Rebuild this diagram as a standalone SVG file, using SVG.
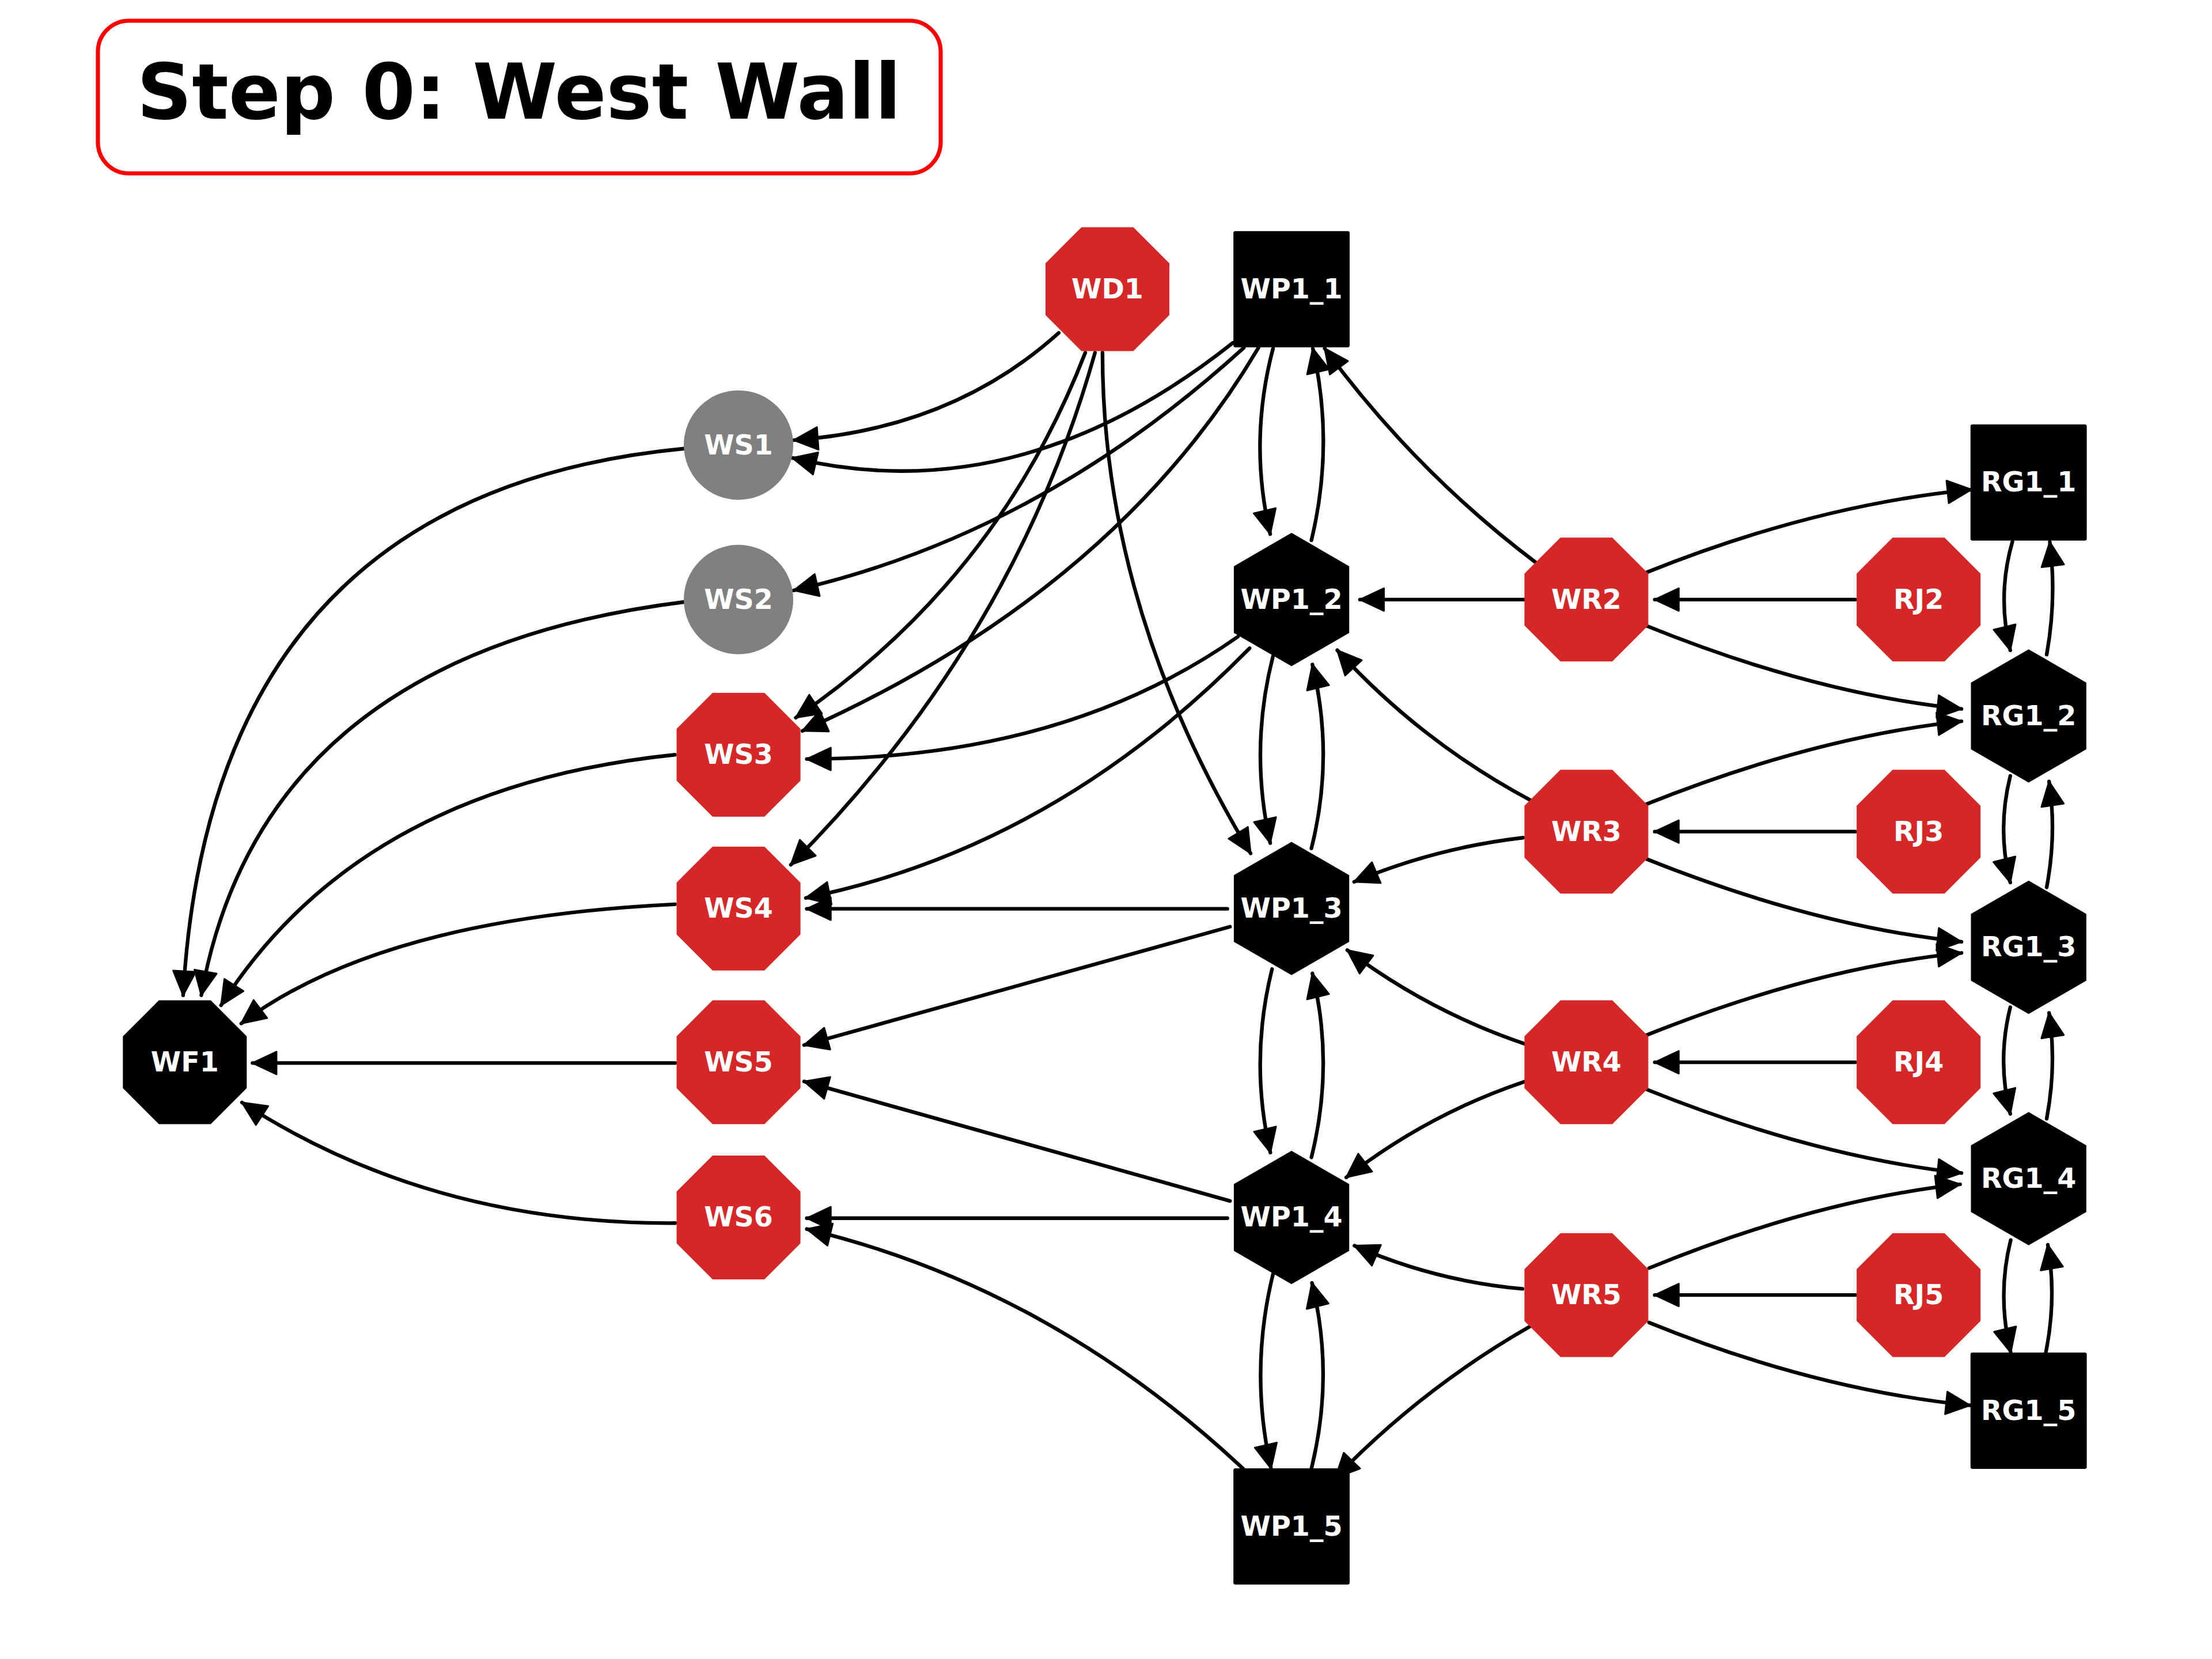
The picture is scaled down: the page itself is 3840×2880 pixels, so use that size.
<svg xmlns="http://www.w3.org/2000/svg" xmlns:xlink="http://www.w3.org/1999/xlink" width="3840" height="2880" viewBox="0 0 3840 2880">
<defs>
<style>
.e{fill:none;stroke:#000;stroke-width:2.6;stroke-linecap:round;marker-end:url(#ah)}
.red{fill:#d62728;stroke:#d62728;stroke-width:0.8;stroke-linejoin:round}
.blk{fill:#000;stroke:#000;stroke-width:0.8;stroke-linejoin:round}
.gry{fill:#808080}
.lbl{font-family:"DejaVu Sans","Liberation Sans",sans-serif;font-weight:bold;font-size:19.4px;fill:#fff;text-anchor:middle}
.ttl{font-family:"DejaVu Sans","Liberation Sans",sans-serif;font-weight:bold;font-size:54.3px;fill:#000;text-anchor:middle}
</style>
<marker id="ah" markerUnits="userSpaceOnUse" markerWidth="22" markerHeight="22" viewBox="0 0 22 22" refX="18.5" refY="11" orient="auto">
<path d="M1.5,3 L18.5,11 L1.5,19 Z" fill="#000" stroke="#000" stroke-width="1.2" stroke-linejoin="round"/>
</marker>
<path id="oct" d="M-18.2,-43.5 L18.2,-43.5 L43.5,-18.2 L43.5,18.2 L18.2,43.5 L-18.2,43.5 L-43.5,18.2 L-43.5,-18.2 Z"/>
<path id="hex" d="M0,-46.8 L40.5,-23.4 L40.5,23.4 L0,46.8 L-40.5,23.4 L-40.5,-23.4 Z"/>
<rect id="sq" x="-40.8" y="-40.8" width="81.6" height="81.6" rx="1"/>
<circle id="circ" r="38.8"/>
</defs>
<rect x="0" y="0" width="3840" height="2880" fill="#fff"/>
<g transform="scale(2.449)">
<g id="title">
<rect x="69.4" y="14.7" width="597.4" height="108.2" rx="22" fill="#fff" stroke="#ff0000" stroke-width="2.9"/>
<text class="ttl" x="367.9" y="84.1">Step 0: West Wall</text>
</g>
<g id="edges">
<path class="e" d="M485,318 Q150,350 129.8,705.5"/>
<path class="e" d="M485,426.7 Q186,464 142.7,705.5"/>
<path class="e" d="M478.4,535 Q255,558 156.7,712.6"/>
<path class="e" d="M478.4,641 Q270,651 171,725.5"/>
<path class="e" d="M478.7,753.5 L179,753.5"/>
<path class="e" d="M478.6,867 Q305,868 171.5,781.5"/>
<path class="e" d="M750.5,236 Q675,304 562.7,312"/>
<path class="e" d="M874,243 Q723,363 561.6,324.6"/>
<path class="e" d="M881.6,246.6 Q736,379 562.7,418.5"/>
<path class="e" d="M769.3,250 Q707,411 564.1,508.7"/>
<path class="e" d="M892,246.6 Q790,419 568.8,518.1"/>
<path class="e" d="M877.5,451.3 Q754,538 571.9,538"/>
<path class="e" d="M776.2,250 Q719,454 560.6,613"/>
<path class="e" d="M885.8,459.5 Q747,601 571.2,636.5"/>
<path class="e" d="M870,644.2 L571.9,644.2"/>
<path class="e" d="M871.9,656.9 L570,740.8"/>
<path class="e" d="M871.9,851.3 L570,766.6"/>
<path class="e" d="M870,863.5 L571.9,863.5"/>
<path class="e" d="M881.3,1041.2 Q744,912.5 571.9,871.2"/>
<path class="e" d="M781.5,250 Q781.5,431 886.5,604.9"/>
<path class="e" d="M902.4,247 Q885,313 900.4,378.6"/>
<path class="e" d="M929.6,383 Q946,315 930.6,247"/>
<path class="e" d="M902.4,465 Q885.5,531 900.4,597.6"/>
<path class="e" d="M929.6,601.4 Q946,536 930.3,471"/>
<path class="e" d="M901.7,686.9 Q885.5,752 900.5,817"/>
<path class="e" d="M929.6,820.4 Q946,755 930.3,690"/>
<path class="e" d="M902.4,903 Q885.5,972 901,1041"/>
<path class="e" d="M929.6,1041 Q946,975 930,909.4"/>
<path class="e" d="M1081,425 L964,425"/>
<path class="e" d="M1089,399 Q1003,334 939,247"/>
<path class="e" d="M1085.5,567.6 Q1007.5,526 947.9,460.9"/>
<path class="e" d="M1079.6,593.8 Q1017.5,601 959.9,625.1"/>
<path class="e" d="M1080.4,739.8 Q1012.4,716.7 955,673.5"/>
<path class="e" d="M1080.4,766.8 Q1011.6,790 954.3,834.6"/>
<path class="e" d="M1079.2,913.6 Q1017,908 960.1,883"/>
<path class="e" d="M1085,940 Q1008,984 946.5,1047.6"/>
<path class="e" d="M1315.2,425 L1173,425"/>
<path class="e" d="M1315.2,589.5 L1173,589.5"/>
<path class="e" d="M1315.2,753 L1173,753"/>
<path class="e" d="M1315.2,918 L1173,918"/>
<path class="e" d="M1166.6,406 Q1286,358 1397.5,347"/>
<path class="e" d="M1166.6,443.4 Q1286,491.8 1390.4,502.5"/>
<path class="e" d="M1166.6,570.2 Q1286,522.5 1390.4,511.3"/>
<path class="e" d="M1166.6,608.7 Q1286,656.5 1390.4,667.6"/>
<path class="e" d="M1166.6,734 Q1286,686 1390.4,675.5"/>
<path class="e" d="M1166.6,772 Q1286,820 1390.4,831.5"/>
<path class="e" d="M1169,898.9 Q1286,851 1389.4,839.5"/>
<path class="e" d="M1169,937.5 Q1286,985 1396.5,996.2"/>
<path class="e" d="M1426.5,384 Q1415.5,422 1425,461"/>
<path class="e" d="M1450.8,464 Q1458,424 1453,384.2"/>
<path class="e" d="M1425,550 Q1415.5,588 1425,625.6"/>
<path class="e" d="M1450.8,629 Q1458,591 1452.5,554"/>
<path class="e" d="M1425,714 Q1415.5,752 1425,789.6"/>
<path class="e" d="M1450.8,793 Q1458,755 1452.5,718"/>
<path class="e" d="M1425.3,879 Q1415.5,918 1425.3,958.7"/>
<path class="e" d="M1450.2,958.7 Q1458,920 1451.6,882.4"/>
</g>
<g id="WF1" transform="translate(131,753)"><use href="#oct" class="blk"/><text class="lbl" y="6.5">WF1</text></g>
<g id="WD1" transform="translate(785,205)"><use href="#oct" class="red"/><text class="lbl" y="6.5">WD1</text></g>
<g id="WP1_1" transform="translate(915.5,205)"><use href="#sq" class="blk"/><text class="lbl" y="6.5">WP1_1</text></g>
<g id="WS1" transform="translate(523.5,315.5)"><use href="#circ" class="gry"/><text class="lbl" y="6.5">WS1</text></g>
<g id="WS2" transform="translate(523.5,425)"><use href="#circ" class="gry"/><text class="lbl" y="6.5">WS2</text></g>
<g id="WS3" transform="translate(523.5,535)"><use href="#oct" class="red"/><text class="lbl" y="6.5">WS3</text></g>
<g id="WS4" transform="translate(523.5,644)"><use href="#oct" class="red"/><text class="lbl" y="6.5">WS4</text></g>
<g id="WS5" transform="translate(523.5,753)"><use href="#oct" class="red"/><text class="lbl" y="6.5">WS5</text></g>
<g id="WS6" transform="translate(523.5,863)"><use href="#oct" class="red"/><text class="lbl" y="6.5">WS6</text></g>
<g id="WP1_2" transform="translate(915.5,425)"><use href="#hex" class="blk"/><text class="lbl" y="6.5">WP1_2</text></g>
<g id="WP1_3" transform="translate(915.5,644)"><use href="#hex" class="blk"/><text class="lbl" y="6.5">WP1_3</text></g>
<g id="WP1_4" transform="translate(915.5,863)"><use href="#hex" class="blk"/><text class="lbl" y="6.5">WP1_4</text></g>
<g id="WP1_5" transform="translate(915.5,1082)"><use href="#sq" class="blk"/><text class="lbl" y="6.5">WP1_5</text></g>
<g id="WR2" transform="translate(1124.5,425)"><use href="#oct" class="red"/><text class="lbl" y="6.5">WR2</text></g>
<g id="WR3" transform="translate(1124.5,589.5)"><use href="#oct" class="red"/><text class="lbl" y="6.5">WR3</text></g>
<g id="WR4" transform="translate(1124.5,753)"><use href="#oct" class="red"/><text class="lbl" y="6.5">WR4</text></g>
<g id="WR5" transform="translate(1124.5,918)"><use href="#oct" class="red"/><text class="lbl" y="6.5">WR5</text></g>
<g id="RJ2" transform="translate(1360,425)"><use href="#oct" class="red"/><text class="lbl" y="6.5">RJ2</text></g>
<g id="RJ3" transform="translate(1360,589.5)"><use href="#oct" class="red"/><text class="lbl" y="6.5">RJ3</text></g>
<g id="RJ4" transform="translate(1360,753)"><use href="#oct" class="red"/><text class="lbl" y="6.5">RJ4</text></g>
<g id="RJ5" transform="translate(1360,918)"><use href="#oct" class="red"/><text class="lbl" y="6.5">RJ5</text></g>
<g id="RG1_1" transform="translate(1438,342)"><use href="#sq" class="blk"/><text class="lbl" y="6.5">RG1_1</text></g>
<g id="RG1_2" transform="translate(1438,507.5)"><use href="#hex" class="blk"/><text class="lbl" y="6.5">RG1_2</text></g>
<g id="RG1_3" transform="translate(1438,671.5)"><use href="#hex" class="blk"/><text class="lbl" y="6.5">RG1_3</text></g>
<g id="RG1_4" transform="translate(1438,835.5)"><use href="#hex" class="blk"/><text class="lbl" y="6.5">RG1_4</text></g>
<g id="RG1_5" transform="translate(1438,1000)"><use href="#sq" class="blk"/><text class="lbl" y="6.5">RG1_5</text></g>
</g>
</svg>
